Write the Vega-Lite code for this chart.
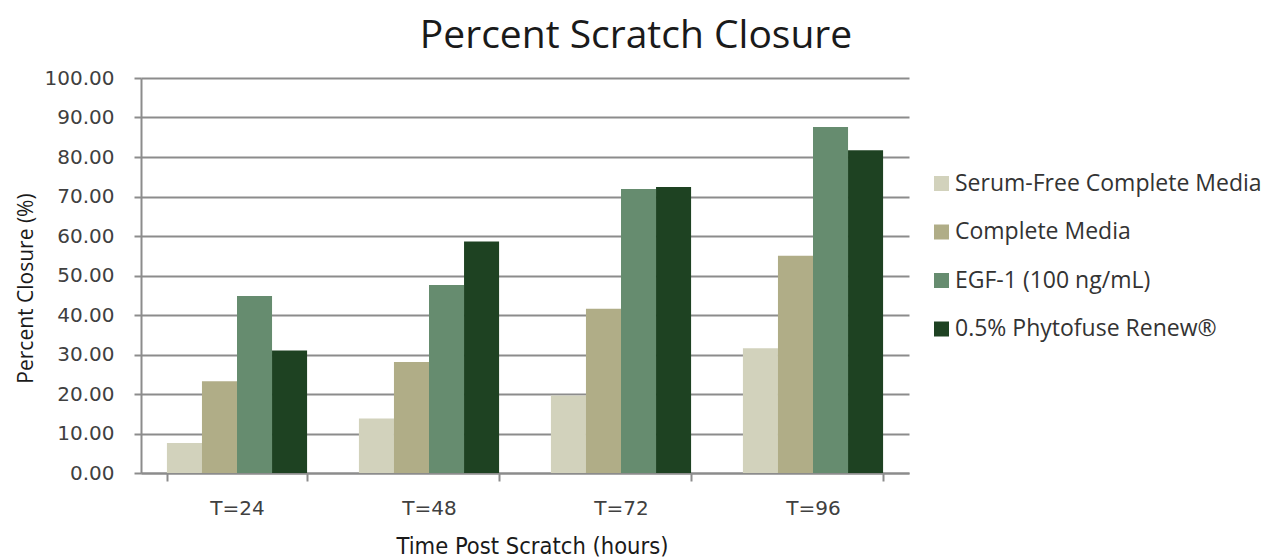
{
  "$schema": "https://vega.github.io/schema/vega-lite/v6.json",
  "autosize": "none",
  "width": 768,
  "height": 395,
  "padding": {"left": 141, "top": 78, "right": 354, "bottom": 87},
  "background": "white",
  "title": {
    "text": "Percent Scratch Closure",
    "font": "Open Sans",
    "fontSize": 39,
    "fontWeight": "normal",
    "color": "#1a1a1a",
    "anchor": "middle",
    "frame": "group",
    "dx": 111,
    "offset": 12
  },
  "data": {
    "values": [
      {"time": "T=24", "group": "Serum-Free Complete Media", "value": 7.6},
      {"time": "T=24", "group": "Complete Media", "value": 23.2},
      {"time": "T=24", "group": "EGF-1 (100 ng/mL)", "value": 44.8},
      {"time": "T=24", "group": "0.5% Phytofuse Renew®", "value": 31.0},
      {"time": "T=48", "group": "Serum-Free Complete Media", "value": 13.8},
      {"time": "T=48", "group": "Complete Media", "value": 28.1},
      {"time": "T=48", "group": "EGF-1 (100 ng/mL)", "value": 47.6},
      {"time": "T=48", "group": "0.5% Phytofuse Renew®", "value": 58.6},
      {"time": "T=72", "group": "Serum-Free Complete Media", "value": 19.6},
      {"time": "T=72", "group": "Complete Media", "value": 41.6},
      {"time": "T=72", "group": "EGF-1 (100 ng/mL)", "value": 71.9},
      {"time": "T=72", "group": "0.5% Phytofuse Renew®", "value": 72.4},
      {"time": "T=96", "group": "Serum-Free Complete Media", "value": 31.6},
      {"time": "T=96", "group": "Complete Media", "value": 55.0},
      {"time": "T=96", "group": "EGF-1 (100 ng/mL)", "value": 87.6},
      {"time": "T=96", "group": "0.5% Phytofuse Renew®", "value": 81.7}
    ]
  },
  "mark": {"type": "bar"},
  "encoding": {
    "x": {
      "field": "time",
      "type": "nominal",
      "sort": ["T=24", "T=48", "T=72", "T=96"],
      "scale": {"paddingInner": 0.27, "paddingOuter": 0.135},
      "axis": {
        "title": "Time Post Scratch (hours)",
        "titleFont": "DejaVu Sans Condensed, Open Sans",
        "titleFontSize": 23.5,
        "titleFontWeight": "normal",
        "titleColor": "#1a1a1a",
        "titlePadding": 16,
        "titleX": 391,
        "titleAnchor": "middle",
        "labelFont": "DejaVu Sans",
        "labelFontSize": 20,
        "labelColor": "#404040",
        "labelAngle": 0,
        "labelPadding": 17,
        "tickBand": "extent",
        "tickSize": 8,
        "tickColor": "#8c8c8c",
        "tickWidth": 2,
        "domainColor": "#8c8c8c",
        "domainWidth": 2
      }
    },
    "xOffset": {
      "field": "group",
      "type": "nominal",
      "sort": ["Serum-Free Complete Media", "Complete Media", "EGF-1 (100 ng/mL)", "0.5% Phytofuse Renew®"],
      "scale": {"paddingInner": 0, "paddingOuter": 0}
    },
    "y": {
      "field": "value",
      "type": "quantitative",
      "scale": {"domain": [0, 100], "nice": false},
      "axis": {
        "title": "Percent Closure (%)",
        "titleFont": "Open Sans",
        "titleFontSize": 21,
        "titleFontWeight": "normal",
        "titleColor": "#1a1a1a",
        "titlePadding": 8,
        "titleY": 210,
        "titleAnchor": "middle",
        "values": [0, 10, 20, 30, 40, 50, 60, 70, 80, 90, 100],
        "format": ".2f",
        "labelFont": "DejaVu Sans",
        "labelFontSize": 20,
        "labelColor": "#404040",
        "labelPadding": 20,
        "tickSize": 7,
        "tickColor": "#8c8c8c",
        "tickWidth": 2,
        "domainColor": "#8c8c8c",
        "domainWidth": 2,
        "grid": true,
        "gridColor": "#8c8c8c",
        "gridWidth": 2
      }
    },
    "color": {
      "field": "group",
      "type": "nominal",
      "sort": ["Serum-Free Complete Media", "Complete Media", "EGF-1 (100 ng/mL)", "0.5% Phytofuse Renew®"],
      "scale": {
        "domain": ["Serum-Free Complete Media", "Complete Media", "EGF-1 (100 ng/mL)", "0.5% Phytofuse Renew®"],
        "range": ["#D2D2BC", "#B0AD87", "#668C6F", "#1E4222"]
      },
      "legend": {
        "title": null,
        "orient": "none",
        "legendX": 789,
        "legendY": 94,
        "symbolType": "square",
        "symbolSize": 225,
        "symbolStrokeWidth": 0,
        "labelFont": "Open Sans",
        "labelFontSize": 23,
        "labelColor": "#333333",
        "labelLimit": 400,
        "labelOffset": 2,
        "rowPadding": 24.5
      }
    }
  },
  "config": {"view": {"stroke": null}}
}
